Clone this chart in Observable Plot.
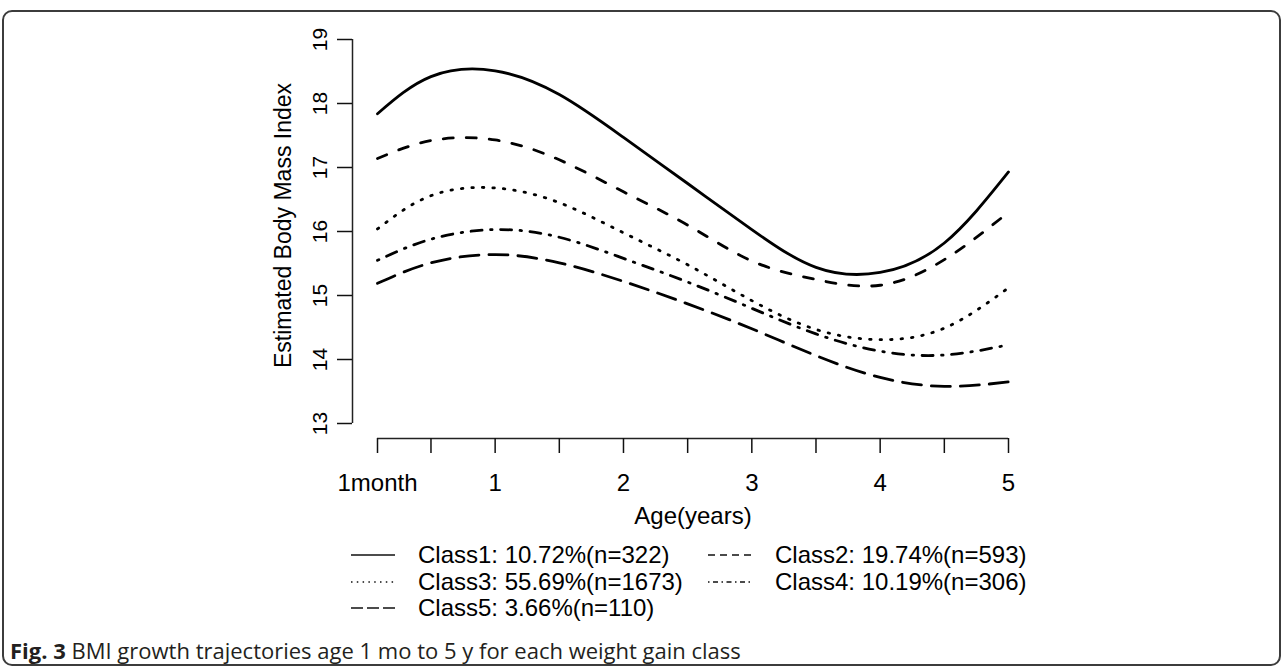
<!DOCTYPE html>
<html>
<head>
<meta charset="utf-8">
<script src="https://cdn.jsdelivr.net/npm/d3@7"></script>
<script src="https://cdn.jsdelivr.net/npm/@observablehq/plot@0.6"></script>
<style>
  html, body { margin: 0; padding: 0; background: #fff; }
  #wrap { position: relative; width: 1284px; height: 668px; overflow: hidden; }
  #frame { position: absolute; left: 2px; top: 10px; width: 1279px; height: 656px; border: 2px solid #3c3c3c; border-radius: 10px; box-sizing: border-box; pointer-events: none; }
  #chart { position: absolute; left: 0; top: 0; }
  .leg { position: absolute; height: 28px; display: flex; align-items: center; font-family: "Liberation Sans", Arial, sans-serif; font-size: 24px; color: #000; white-space: nowrap; }
  .leg svg { flex: none; margin-right: 23px; }
  #caption { position: absolute; left: 10px; top: 636px; font-family: "Open Sans", sans-serif; font-size: 22px; line-height: 28px; color: #231f20; white-space: nowrap; }
</style>
</head>
<body>
<div id="wrap">
  <div id="chart"></div>
  <div id="legend"></div>
  <div id="caption"><b>Fig. 3</b> BMI growth trajectories age 1 mo to 5 y for each weight gain class</div>
  <div id="frame"></div>
</div>
<script>
// ---- data ----
const ages = [1/12, 0.5, 1, 1.5, 2, 2.5, 3, 3.5, 4, 4.5, 5];
const class1 = [17.84, 18.42, 18.51, 18.14, 17.47, 16.75, 16.03, 15.44, 15.36, 15.82, 16.93];
const class2 = [17.14, 17.42, 17.43, 17.12, 16.62, 16.10, 15.54, 15.25, 15.16, 15.56, 16.30];
const class3 = [16.04, 16.56, 16.68, 16.45, 15.98, 15.48, 14.92, 14.47, 14.31, 14.49, 15.12];
const class4 = [15.55, 15.88, 16.03, 15.91, 15.58, 15.21, 14.80, 14.40, 14.13, 14.07, 14.23];
const class5 = [15.19, 15.51, 15.64, 15.51, 15.22, 14.87, 14.48, 14.06, 13.72, 13.58, 13.65];
const classNames = ["Class1", "Class2", "Class3", "Class4", "Class5"];
const classLabels = ["Class1: 10.72%(n=322)", "Class2: 19.74%(n=593)", "Class3: 55.69%(n=1673)", "Class4: 10.19%(n=306)", "Class5: 3.66%(n=110)"];
const yTicks = [13, 14, 15, 16, 17, 18, 19];
const xTicks = [1/12, 0.5, 1, 1.5, 2, 2.5, 3, 3.5, 4, 4.5, 5];
const xLabelValues = [1/12, 1, 2, 3, 4, 5];
const xLabelText = ["1month", "1", "2", "3", "4", "5"];
const xTitle = "Age(years)";
const yTitle = "Estimated Body Mass Index";

// ---- styles ----
const series = [class1, class2, class3, class4, class5];
const lineDash = [null, "10,13", "1.5,9", "1.5,8.5,11,8.5", "19,10"];
const legendDash = [null, "7,5", "1.5,4.3", "1.5,3.5,5,3.5", "12,4"];
const ink = "#000";

const rows = classNames.flatMap((c, i) => ages.map((a, j) => ({age: a, bmi: series[i][j], cls: c})));

const lineMarks = classNames.map((c, i) =>
  Plot.line(rows.filter(d => d.cls === c), {
    x: "age", y: "bmi", curve: "natural",
    stroke: ink, strokeWidth: 2.8, strokeLinecap: "round",
    strokeDasharray: lineDash[i] || undefined
  })
);

const chart = Plot.plot({
  width: 1284,
  height: 530,
  marginLeft: 377,
  marginRight: 276,
  marginTop: 39,
  marginBottom: 107,
  x: {type: "linear", domain: [1/12, 5]},
  y: {type: "linear", domain: [13, 19]},
  style: {fontFamily: "'Liberation Sans', Arial, sans-serif", fontSize: "22px", color: "#111", background: "transparent", overflow: "visible"},
  marks: [
    // y axis (detached, R style)
    Plot.ruleX([1/12], {y1: 13, y2: 19, dx: -25, stroke: "#222", strokeWidth: 1.5}),
    Plot.axisY({ticks: yTicks, tickSize: 15, dx: -25, tickFormat: () => "", label: null, strokeWidth: 1.5}),
    Plot.text(yTicks, {y: d => d, text: d => String(d), frameAnchor: "left", rotate: -90, dx: -57, textAnchor: "middle", lineAnchor: "middle", fontSize: 21, fill: ink}),
    // x axis (detached)
    Plot.ruleY([13], {x1: 1/12, x2: 5, dy: 15, stroke: "#222", strokeWidth: 1.5}),
    Plot.axisX({ticks: xTicks, tickSize: 15, dy: 15, tickFormat: () => "", label: null, strokeWidth: 1.5}),
    Plot.text(xLabelValues, {x: d => d, text: (d, i) => xLabelText[i], frameAnchor: "bottom", dy: 60, textAnchor: "middle", lineAnchor: "middle", fontSize: 24, fill: ink}),
    // titles
    Plot.text([xTitle], {frameAnchor: "bottom", dy: 93, textAnchor: "middle", lineAnchor: "middle", fontSize: 24, fill: ink}),
    Plot.text([yTitle], {frameAnchor: "left", rotate: -90, dx: -94, dy: -6, textAnchor: "middle", lineAnchor: "middle", fontSize: 23, fill: ink}),
    ...lineMarks
  ]
});
document.getElementById("chart").appendChild(chart);

// ---- legend (HTML, below the SVG) ----
const legend = document.getElementById("legend");
const colX = [351, 708];
const rowY = [555, 582, 608];
classLabels.forEach((lab, i) => {
  const item = document.createElement("div");
  item.className = "leg";
  item.style.left = colX[i % 2] + "px";
  item.style.top = (rowY[Math.floor(i / 2)] - 14) + "px";
  const dash = legendDash[i] ? ` stroke-dasharray="${legendDash[i]}"` : "";
  item.innerHTML = `<svg width="44" height="8"><line x1="0" x2="44" y1="4" y2="4" stroke="#111" stroke-width="1.5"${dash}/></svg><span>${lab}</span>`;
  legend.appendChild(item);
});
</script>
</body>
</html>
